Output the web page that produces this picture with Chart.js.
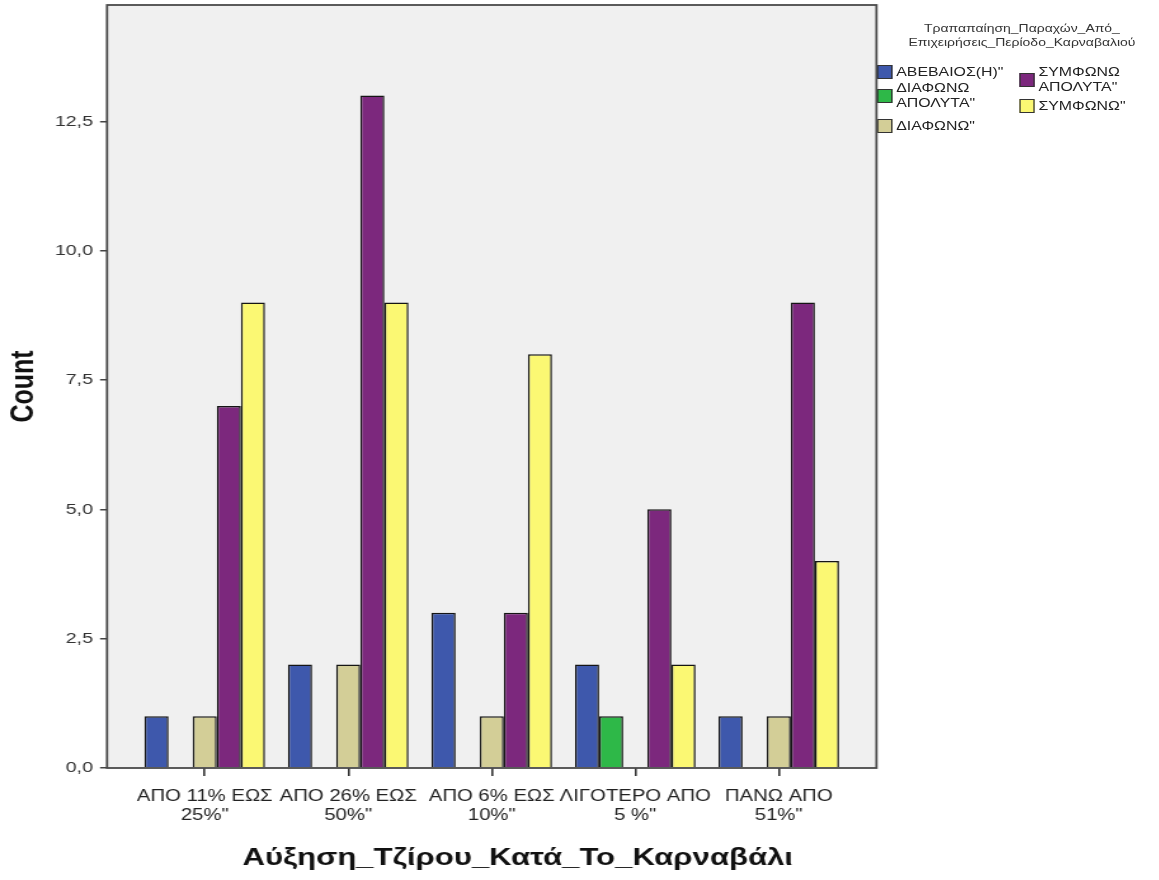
<!DOCTYPE html>
<html>
<head>
<meta charset="utf-8">
<script src="https://cdn.jsdelivr.net/npm/chart.js@4.4.1/dist/chart.umd.min.js"></script>
<style>
html, body { margin: 0; padding: 0; background: #fff; overflow: hidden; width: 1159px; height: 880px; }
#wrap { position: absolute; left: 0; top: 0; width: 913px; height: 880px; transform: scaleX(1.2695); transform-origin: 0 0; }
#c { position: absolute; left: 0; top: 0; width: 913px; height: 880px; }
#legend { position: absolute; left: 0; top: 0; width: 913px; height: 200px; font-family: "Liberation Sans", Arial, sans-serif; font-size: 12.5px; line-height: 15px; color: #222; }
#legend .ttl { position: absolute; left: 700px; width: 210px; top: 21px; text-align: center; color: #333; font-size: 11px; line-height: 14px; }
#legend .item { position: absolute; display: flex; align-items: center; }
#legend .sw { width: 10px; height: 12px; border: 1px solid #333; margin-right: 3px; flex: none; }
#legend .tx { max-width: 92px; }
</style>
</head>
<body>
<div id="wrap">
  <canvas id="c" width="913" height="880"></canvas>
  <div id="legend"></div>
</div>
<script>
// ---- data ----
const categories = [
  ["ΑΠΟ 11% ΕΩΣ", "25%\""],
  ["ΑΠΟ 26% ΕΩΣ", "50%\""],
  ["ΑΠΟ 6% ΕΩΣ", "10%\""],
  ["ΛΙΓΟΤΕΡΟ ΑΠΟ", "5 %\""],
  ["ΠΑΝΩ ΑΠΟ", "51%\""]
];
const seriesNames = ["ΑΒΕΒΑΙΟΣ(Η)\"", "ΔΙΑΦΩΝΩ ΑΠΟΛΥΤΑ\"", "ΔΙΑΦΩΝΩ\"", "ΣΥΜΦΩΝΩ ΑΠΟΛΥΤΑ\"", "ΣΥΜΦΩΝΩ\""];
const avevaios       = [1, 2, 3, 2, 1];
const diafonoApolyta = [0, 0, 0, 1, 0];
const diafono        = [1, 2, 1, 0, 1];
const symfonoApolyta = [7, 13, 3, 5, 9];
const symfono        = [9, 9, 8, 2, 4];
const yTickValues = [0, 2.5, 5, 7.5, 10, 12.5];
const xTitle = "Αύξηση_Τζίρου_Κατά_Το_Καρναβάλι";
const yTitle = "Count";
const legendTitle = ["Τραπαπαίηση_Παραχών_Από_", "Επιχειρήσεις_Περίοδο_Καρναβαλιού"];

// ---- styles ----
const seriesColors = ["#3E58AC", "#2EB848", "#D3CE97", "#7C287D", "#FBF873"];
const allSeries = [avevaios, diafonoApolyta, diafono, symfonoApolyta, symfono];
const FONT = "'Liberation Sans', Arial, sans-serif";

const datasets = allSeries.map((vals, k) => ({
  label: seriesNames[k],
  data: vals.map((v, i) => ({ x: i, y: v })),
  backgroundColor: seriesColors[k],
  borderColor: "#151515",
  borderWidth: 1.5,
  borderSkipped: "start",
  categoryPercentage: 0.84,
  barPercentage: 1.0
}));

const framePlugin = {
  id: "frame",
  beforeDraw(chart) {
    const { ctx, chartArea: a } = chart;
    ctx.save();
    ctx.fillStyle = "#F0F0F0";
    ctx.fillRect(a.left, a.top, a.right - a.left, a.bottom - a.top);
    ctx.restore();
  },
  afterDatasetsDraw(chart) {
    const { ctx, chartArea: a } = chart;
    ctx.save();
    ctx.strokeStyle = "#4a4a4a";
    ctx.lineWidth = 1.8;
    ctx.strokeRect(a.left, a.top, a.right - a.left, a.bottom - a.top);
    ctx.restore();
  },
  afterDraw(chart) {
    const { ctx, chartArea: a } = chart;
    const xs = chart.scales.x;
    ctx.save();
    ctx.font = "bold 24.5px " + FONT;
    ctx.fillStyle = "#111";
    ctx.textAlign = "center";
    ctx.textBaseline = "middle";
    ctx.fillText(xTitle, (a.left + a.right) / 2 + 20.5, xs.bottom - 22);
    ctx.restore();
  }
};

new Chart(document.getElementById("c"), {
  type: "bar",
  data: { datasets },
  plugins: [framePlugin],
  options: {
    responsive: false,
    animation: false,
    devicePixelRatio: 1,
    layout: { padding: { left: 0, top: 5, right: 222.6, bottom: 0 } },
    plugins: { legend: { display: false }, tooltip: { enabled: false } },
    scales: {
      x: {
        type: "linear",
        offset: false,
        min: -0.681,
        max: 4.681,
        afterBuildTicks: (s) => { s.ticks = categories.map((c, i) => ({ value: i })); },
        afterFit: (s) => { s.height = 112; s.paddingLeft = 0; s.paddingRight = 0; },
        ticks: {
          callback: (v) => categories[v],
          autoSkip: false, minRotation: 0, maxRotation: 0,
          font: { family: FONT, size: 16, lineHeight: 1.13 },
          color: "#222",
          padding: 12
        },
        grid: { offset: false, drawOnChartArea: false, drawTicks: true, tickLength: 8, color: "#333", lineWidth: 1.6 },
        border: { display: false }
      },
      y: {
        min: 0,
        max: 14.75,
        afterBuildTicks: (s) => { s.ticks = yTickValues.map(v => ({ value: v })); },
        afterFit: (s) => { s.width = 84.3; s.paddingTop = 0; s.paddingBottom = 0; },
        ticks: {
          callback: (v) => Number(v).toFixed(1).replace(".", ","),
          font: { family: FONT, size: 15.5 },
          color: "#333",
          padding: 5.5
        },
        grid: { drawOnChartArea: false, drawTicks: true, tickLength: 5.5, color: "#444", lineWidth: 1.5 },
        border: { display: false },
        title: {
          display: true, text: yTitle, color: "#111",
          font: { family: FONT, size: 25, weight: "bold" },
          padding: { top: 4, bottom: 0 }
        }
      }
    }
  }
});

// ---- legend (HTML, built from the datasets) ----
const legendEl = document.getElementById("legend");
const ttl = document.createElement("div");
ttl.className = "ttl";
ttl.innerHTML = legendTitle.map(t => t.replace(/&/g, "&amp;")).join("<br>");
legendEl.appendChild(ttl);
const itemPos = [
  { left: 691, top: 64.5 },
  { left: 691, top: 80.5 },
  { left: 691, top: 118.5 },
  { left: 803, top: 64.5 },
  { left: 803, top: 98.5 }
];
datasets.forEach((d, k) => {
  const it = document.createElement("div");
  it.className = "item";
  it.style.left = itemPos[k].left + "px";
  it.style.top = itemPos[k].top + "px";
  const sw = document.createElement("div");
  sw.className = "sw";
  sw.style.background = d.backgroundColor;
  const tx = document.createElement("div");
  tx.className = "tx";
  tx.textContent = d.label;
  it.appendChild(sw);
  it.appendChild(tx);
  legendEl.appendChild(it);
});
</script>
</body>
</html>
